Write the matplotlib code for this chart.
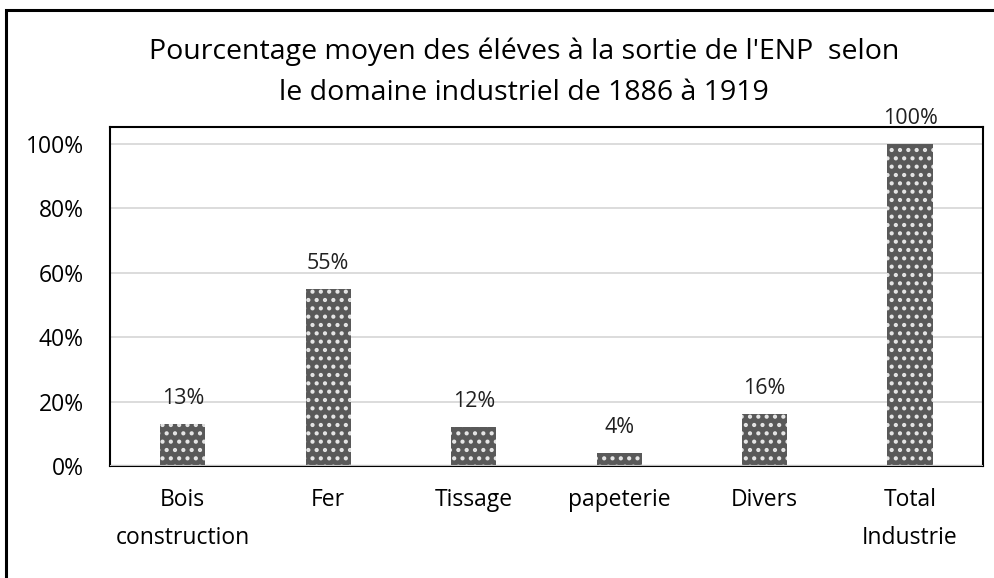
import matplotlib.pyplot as plt
from matplotlib.patches import Rectangle

## Data
categories = ["Bois\nconstruction", "Fer", "Tissage", "papeterie", "Divers", "Total\nIndustrie"]
values = [13, 55, 12, 4, 16, 100]
labels = ["13%", "55%", "12%", "4%", "16%", "100%"]
y_ticks = [0, 20, 40, 60, 80, 100]

plt.rcParams['font.family'] = ['Open Sans', 'DejaVu Sans']
plt.rcParams['hatch.linewidth'] = 1.8

fig = plt.figure(figsize=(9.94, 5.78), dpi=100)
ax = fig.add_axes([0.1107, 0.1938, 0.878, 0.5865])

x = range(len(categories))
bars = ax.bar(x, values, width=0.31, color='#595959', edgecolor='#e6e6e6',
              linewidth=0, hatch='..', zorder=3)

for xi, v, lab in zip(x, values, labels):
    ax.annotate(lab, (xi, v), xytext=(0, 11), textcoords='offset points',
                ha='center', va='bottom', fontsize=15.5, color='#202020')

ax.set_xlim(-0.5, len(categories) - 0.5)
ax.set_ylim(0, 105.3)
ax.set_yticks(y_ticks)
ax.set_yticklabels([f"{t}%" for t in y_ticks], fontsize=16.5)
ax.set_xticks(list(x))
ax.set_xticklabels(categories, fontsize=16.5, linespacing=1.75)
ax.tick_params(length=0, pad=16)
ax.tick_params(axis='y', pad=19)
ax.grid(axis='y', color='#d9d9d9', linewidth=1.3, zorder=0)
ax.axhline(0, color='#bfbfbf', linewidth=1.5, zorder=4)
for s in ax.spines.values():
    s.set_color('black')
    s.set_linewidth(1.5)

fig.text(0.527, 0.91, "Pourcentage moyen des éléves à la sortie de l'ENP  selon",
         ha='center', va='center', fontsize=20.5)
fig.text(0.527, 0.839, "le domaine industriel de 1886 à 1919",
         ha='center', va='center', fontsize=20.5)

# outer frame of the chart
fig.patches.append(Rectangle((0.0065, -0.05), 1.1, 1.033, transform=fig.transFigure,
                             fill=False, edgecolor='black', linewidth=2.2))

fig.savefig('out.png', dpi=100)
